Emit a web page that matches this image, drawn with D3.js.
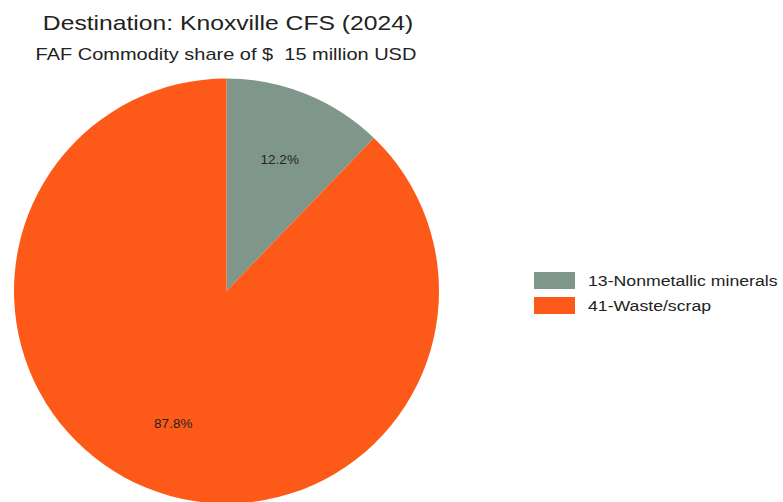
<!DOCTYPE html>
<html>
<head>
<meta charset="utf-8">
<script src="https://cdn.jsdelivr.net/npm/d3@7"></script>
<style>
  body { margin: 0; background: #fff; }
  svg { font-family: "Liberation Sans", Arial, sans-serif; }
</style>
</head>
<body>
<div id="chart"></div>
<script>
// data
let categories = ["13-Nonmetallic minerals", "41-Waste/scrap"],
  shares = [12.2, 87.8],
  colors = ["#7f978b", "#fd5a19"]

let title = "Destination: Knoxville CFS (2024)",
  subtitle = "FAF Commodity share of $  15 million USD"

let width = 783,
  height = 502,
  cx = 226.5,
  cy = 291,
  radius = 212.5

let svg = d3.select("#chart").append("svg")
  .attr("width", width)
  .attr("height", height)

// the reference text is a bit wider than Arial metrics, so stretch it
function stretch(sel, k) {
  sel.each(function () {
    let w = this.getComputedTextLength()
    d3.select(this).attr("textLength", w * k).attr("lengthAdjust", "spacingAndGlyphs")
  })
}

svg.append("text")
  .attr("x", 228)
  .attr("y", 30)
  .attr("text-anchor", "middle")
  .style("font-size", "21px")
  .style("fill", "#222")
  .text(title)
  .call(stretch, 1.175)

svg.append("text")
  .attr("x", 226)
  .attr("y", 60)
  .attr("text-anchor", "middle")
  .attr("xml:space", "preserve")
  .style("white-space", "pre")
  .style("font-size", "17px")
  .style("fill", "#222")
  .text(subtitle)
  .call(stretch, 1.175)

let data = categories.map((c, i) => ({ name: c, value: shares[i], color: colors[i] }))

let pie = d3.pie().sort(null).value(d => d.value)
let arc = d3.arc().innerRadius(0).outerRadius(radius)
let labelArc = d3.arc().innerRadius(radius * 0.67).outerRadius(radius * 0.67)

let g = svg.append("g").attr("transform", `translate(${cx},${cy})`)

let arcs = pie(data)

g.selectAll("path")
  .data(arcs)
  .enter().append("path")
  .attr("d", arc)
  .style("fill", d => d.data.color)

g.selectAll("text")
  .data(arcs)
  .enter().append("text")
  .attr("transform", d => `translate(${labelArc.centroid(d)})`)
  .attr("text-anchor", "middle")
  .attr("dy", "0.35em")
  .style("font-size", "13.5px")
  .style("fill", "#262222")
  .text(d => d.data.value.toFixed(1) + "%")

// legend
let legend = svg.append("g").attr("transform", "translate(534,272)")
let item = legend.selectAll("g")
  .data(data)
  .enter().append("g")
  .attr("transform", (d, i) => `translate(0,${i * 25})`)

item.append("rect")
  .attr("width", 41)
  .attr("height", 17)
  .style("fill", d => d.color)

item.append("text")
  .attr("x", 54)
  .attr("y", 14)
  .style("font-size", "15.5px")
  .style("fill", "#222")
  .text(d => d.name)
  .call(stretch, 1.14)
</script>
</body>
</html>
